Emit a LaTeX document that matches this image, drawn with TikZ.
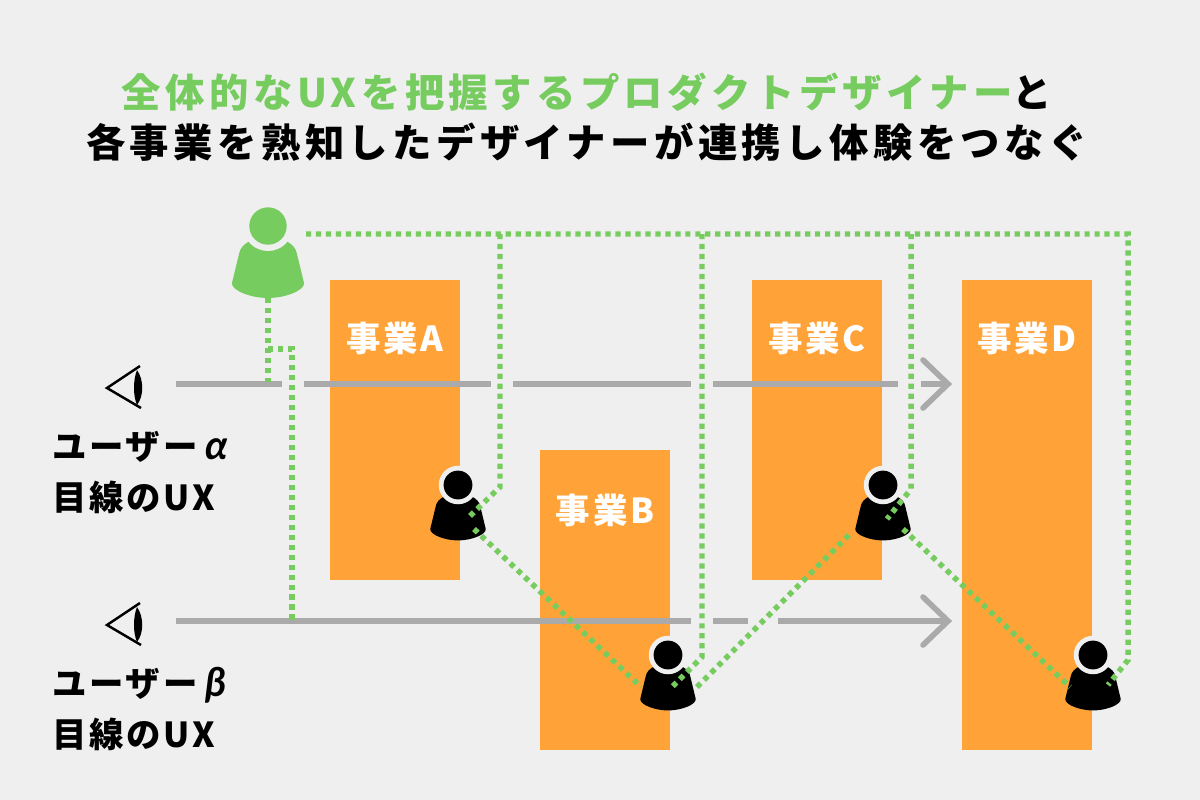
\documentclass[tikz,border=0pt]{standalone}
\usepackage{fontspec}
\setmainfont{Noto Sans CJK JP}
\newfontfamily\titlefont[LetterSpace=11.2]{Noto Sans CJK JP}
\newfontfamily\labelfont[LetterSpace=8]{Noto Sans CJK JP}
\newfontfamily\greekfont{Lato}
\newcommand{\greekmark}[1]{\hspace{11pt}{\greekfont\itshape\fontsize{57pt}{57pt}\selectfont #1}}
\definecolor{paper}{HTML}{EFEFEF}
\definecolor{bizorange}{HTML}{FFA338}
\definecolor{leadgreen}{HTML}{76CC5E}
\definecolor{gazegrey}{HTML}{AAAAAA}
\tikzset{
  bizbox/.style={fill=bizorange,anchor=north west,inner sep=0pt},
  bizlabel/.style={text=white,font=\fontsize{49pt}{49pt}\selectfont\labelfont\bfseries},
  userlabel/.style={anchor=west,inner sep=0pt,font=\fontsize{49pt}{49pt}\selectfont\labelfont\bfseries},
  titleline/.style={inner sep=0pt,font=\fontsize{56pt}{56pt}\selectfont\titlefont\bfseries},
  gaze/.style={draw=gazegrey,line width=8pt},
  gazetip/.style={draw=gazegrey,line width=8pt,line cap=round,line join=miter},
  linkdots/.style={draw=leadgreen,line width=7.8pt,dash pattern=on 7.4pt off 6.8pt},
  personicon/.pic={
    \fill (-18,15) .. controls (-24,18) and (-28,22) .. (-29,28)
      -- (-36,57) .. controls (-37,64) and (-18,72) .. (0,72)
      .. controls (18,72) and (37,64) .. (36,57)
      -- (29,28) .. controls (28,22) and (24,18) .. (18,15) -- cycle ;
    \fill [paper] (0,0) circle [radius=25] ;
    \fill (0,0) circle [radius=18.7] ;
  },
  eyeicon/.pic={
    \draw [line width=3.5pt] (33,-22) -- (0,0) -- (34,20) ;
    \fill (30,-18) .. controls (37,-8) and (37,8) .. (30,17)
      .. controls (26,8) and (26,-8) .. (30,-18) -- cycle ;
  },
}
\begin{document}
\begin{tikzpicture}[x=0.05cm,y=-0.05cm]
\useasboundingbox (0,0) rectangle (1200,800) ;
\fill [paper] (0,0) rectangle (1200,800) ;

%title
\node (title1) [titleline] at (587,92) {\textcolor{leadgreen}{全体的なUXを把握するプロダクトデザイナー}と} ;
\node (title2) [titleline] at (587,142) {各事業を熟知したデザイナーが連携し体験をつなぐ} ;

%business blocks
\node (bizA) [bizbox,minimum width=6.5cm,minimum height=15cm] at (330,280) {} ;
\node (bizB) [bizbox,minimum width=6.5cm,minimum height=15cm] at (540,450) {} ;
\node (bizC) [bizbox,minimum width=6.5cm,minimum height=15cm] at (752,280) {} ;
\node (bizD) [bizbox,minimum width=6.5cm,minimum height=23.5cm] at (962,280) {} ;

%business labels
\node (labA) [bizlabel] at (395,338) {事業A} ;
\node (labB) [bizlabel] at (605,510) {事業B} ;
\node (labC) [bizlabel] at (817,338) {事業C} ;
\node (labD) [bizlabel] at (1027,338) {事業D} ;

%gaze of user alpha
\coordinate (a0) at (176,384) ;
\coordinate (a1) at (282,384) ;
\coordinate (a2) at (304,384) ;
\coordinate (a3) at (491,384) ;
\coordinate (a4) at (513,384) ;
\coordinate (a5) at (691,384) ;
\coordinate (a6) at (713,384) ;
\coordinate (a7) at (898,384) ;
\coordinate (a8) at (921,384) ;
\coordinate (atip) at (948,384) ;
\draw [gaze] (a0) -- (a1) ;
\draw [gaze] (a2) -- (a3) ;
\draw [gaze] (a4) -- (a5) ;
\draw [gaze] (a6) -- (a7) ;
\draw [gaze] (a8) -- (atip) ;
\draw [gazetip] (923,360) -- (atip) -- (923,408) ;

%gaze of user beta
\coordinate (b0) at (176,621) ;
\coordinate (b1) at (691,621) ;
\coordinate (b2) at (713,621) ;
\coordinate (b3) at (748,621) ;
\coordinate (b4) at (778,621) ;
\coordinate (btip) at (948,621) ;
\draw [gaze] (b0) -- (b1) ;
\draw [gaze] (b2) -- (b3) ;
\draw [gaze] (b4) -- (btip) ;
\draw [gazetip] (923,597) -- (btip) -- (923,645) ;

%eyes
\pic at (107,388) {eyeicon} ;
\pic at (107,625) {eyeicon} ;

%user labels
\node (userA) [userlabel] at (52,447) {ユーザー\greekmark{α}} ;
\node (uxA) [userlabel] at (52,497) {目線のUX} ;
\node (userB) [userlabel] at (52,685) {ユーザー\greekmark{β}} ;
\node (uxB) [userlabel] at (52,734) {目線のUX} ;

%designers
\pic [leadgreen] at (268,226) {personicon} ;
\pic [black,scale=.77] at (458,485) {personicon} ;
\pic [black,scale=.77] at (668,655) {personicon} ;
\pic [black,scale=.77] at (883,485) {personicon} ;
\pic [black,scale=.77] at (1093,655) {personicon} ;

%links
\coordinate (lead) at (268,298) ;
\coordinate (leadfoot) at (268,382) ;
\coordinate (leadelbow) at (268,349) ;
\coordinate (leadturn) at (292,349) ;
\coordinate (leadend) at (292,621) ;
\coordinate (topstart) at (306,234) ;
\coordinate (topend) at (1128,234) ;
\coordinate (topA) at (500,234) ;
\coordinate (topB) at (702,234) ;
\coordinate (topC) at (911,234) ;
\coordinate (kneeA) at (500,487) ;
\coordinate (kneeB) at (702,657) ;
\coordinate (kneeC) at (911,489) ;
\coordinate (kneeD) at (1128,660) ;
\coordinate (inA) at (470,516) ;
\coordinate (inB) at (672,687) ;
\coordinate (inC) at (887,519) ;
\coordinate (inD) at (1108,685) ;
\coordinate (outA) at (474,529) ;
\coordinate (outB) at (697,687) ;
\coordinate (outC) at (903,529) ;
\coordinate (toB) at (641,687) ;
\coordinate (toC) at (852,532) ;
\coordinate (toD) at (1070,687) ;

\draw [linkdots] (lead) -- (leadfoot) ;
\draw [linkdots] (leadelbow) -- (leadturn) -- (leadend) ;
\draw [linkdots] (topstart) -- (topend) -- (kneeD) -- (inD) ;
\draw [linkdots] (topA) -- (kneeA) -- (inA) ;
\draw [linkdots] (topB) -- (kneeB) -- (inB) ;
\draw [linkdots] (topC) -- (kneeC) -- (inC) ;
\draw [linkdots] (outA) -- (toB) ;
\draw [linkdots] (outB) -- (toC) ;
\draw [linkdots] (outC) -- (toD) ;

\end{tikzpicture}
\end{document}
